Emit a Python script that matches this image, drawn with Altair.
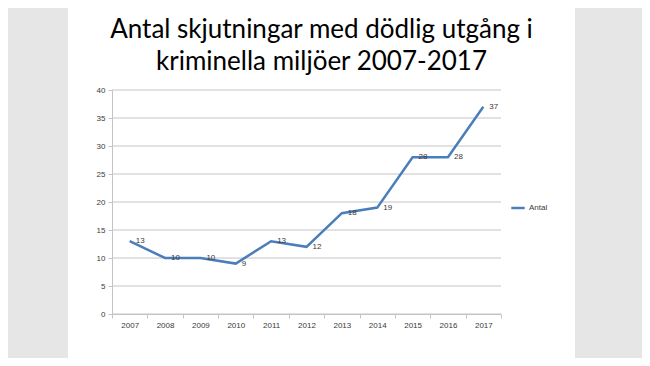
import altair as alt
import pandas as pd

years = ["2007", "2008", "2009", "2010", "2011", "2012", "2013", "2014", "2015", "2016", "2017"]
antal = [13, 10, 10, 9, 13, 12, 18, 19, 28, 28, 37]
y_ticks = [0, 5, 10, 15, 20, 25, 30, 35, 40]
series_name = "Antal"
title_lines = ["Antal skjutningar med dödlig utgång i", "kriminella miljöer 2007-2017"]

df = pd.DataFrame({"year": years, "value": antal, "series": [series_name] * len(years)})
grid_df = pd.DataFrame({"v": y_ticks})
slide_df = pd.DataFrame({"a": [0]})

LINE = "#4a7ebb"
GRID = "#c4c4c4"
TXT = "#3a3a3a"

x_scale = alt.Scale(type="band", paddingInner=0, paddingOuter=0)
y_scale = alt.Scale(domain=[0, 40], nice=False)

x_axis = alt.Axis(title=None, labelAngle=0, tickBand="extent", labelFontSize=8,
                  labelColor=TXT, labelFont="Liberation Sans", domainColor=GRID,
                  tickColor=GRID, tickSize=4, labelPadding=3, grid=False, zindex=1)
y_axis = alt.Axis(title=None, values=y_ticks, labelFontSize=8, labelColor=TXT,
                  labelFont="Liberation Sans", domainColor=GRID, tickColor=GRID,
                  tickSize=4, labelPadding=3, grid=False, zindex=1, labelOverlap=False)

slide = alt.Chart(slide_df).mark_rect(color="white").encode(
    x=alt.value(-44), x2=alt.value(463), y=alt.value(-100), y2=alt.value(300)
)

grid = alt.Chart(grid_df).mark_rule(color=GRID, strokeWidth=1).encode(
    y=alt.Y("v:Q", scale=y_scale, axis=y_axis)
)

line = alt.Chart(df).mark_line(strokeWidth=2.5).encode(
    x=alt.X("year:O", sort=years, scale=x_scale, axis=x_axis),
    y=alt.Y("value:Q", scale=y_scale, axis=y_axis),
    color=alt.Color(
        "series:N",
        scale=alt.Scale(range=[LINE]),
        legend=alt.Legend(title=None, orient="none", legendX=398, legendY=110,
                          symbolType="stroke", symbolStrokeWidth=2.5, symbolSize=180,
                          labelFontSize=8, labelColor=TXT, labelFont="Liberation Sans",
                          labelOffset=3),
    ),
)

labels = alt.Chart(df).mark_text(align="left", dx=6, fontSize=8, color=TXT,
                                 font="Liberation Sans").encode(
    x=alt.X("year:O", sort=years, scale=x_scale, axis=x_axis),
    y=alt.Y("value:Q", scale=y_scale, axis=y_axis),
    text="value:Q",
)

chart = alt.layer(slide, grid, line, labels).properties(
    width=389,
    height=224,
    autosize=alt.AutoSizeParams(type="none"),
    padding={"left": 104, "top": 82, "right": 141, "bottom": 44},
    background="#e7e6e6",
    title=alt.TitleParams(text=title_lines, fontSize=26, font="Lato", fontWeight="normal",
                          color="black", anchor="middle", dx=15, offset=-85, lineHeight=32,
                          frame="group", zindex=1),
).configure_view(strokeOpacity=0)

chart.save("out.html", embed_options={"renderer": "svg", "actions": False})
